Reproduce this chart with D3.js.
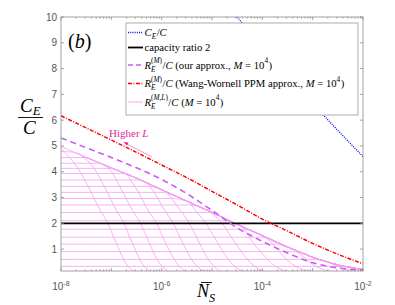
<!DOCTYPE html>
<html>
<head>
<meta charset="utf-8">
<script src="https://cdn.jsdelivr.net/npm/d3@7"></script>
<style>
  html, body { margin: 0; padding: 0; background: #fff; }
  svg { display: block; }
</style>
</head>
<body>
<svg id="chart" width="395" height="305"></svg>
<script>
// =============================================================================
// DATA  (x = log10 of N_S, y = rate ratio)
// =============================================================================

const xTickExps = [-8, -6, -4, -2];
const yTicks = [1, 2, 3, 4, 5, 6, 7, 8, 9, 10];

const ceOverC = [[-4.75, 10.6], [-4.5, 10.0], [-4, 8.85], [-3.5, 7.75], [-3, 6.65], [-2.5, 5.6], [-2, 4.59]];
const capacityRatio = 2;

const ourApprox = [[-8, 5.31], [-7.5, 4.93], [-7, 4.55], [-6.5, 4.15], [-6, 3.7], [-5.5, 3.15], [-5, 2.5],
  [-4.5, 1.82], [-4, 1.3], [-3.5, 0.85], [-3, 0.47], [-2.5, 0.27], [-2, 0.18]];

const wangWornell = [[-8, 6.17], [-7.5, 5.7], [-7, 5.23], [-6.5, 4.75], [-6, 4.26], [-5.5, 3.77], [-5, 3.24],
  [-4.5, 2.71], [-4, 2.16], [-3.5, 1.7], [-3, 1.22], [-2.5, 0.8], [-2, 0.43]];

// upper edge of the R_E^(M,L)/C family
const envelope = [[-8, 4.98], [-7.75, 4.76], [-7.5, 4.55], [-7.25, 4.35], [-7, 4.15], [-6.75, 3.95],
  [-6.5, 3.75], [-6.25, 3.53], [-6, 3.3], [-5.75, 3.08], [-5.5, 2.86], [-5.25, 2.64], [-5, 2.42],
  [-4.75, 2.19], [-4.5, 1.96], [-4.25, 1.74], [-4, 1.52], [-3.75, 1.3], [-3.5, 1.08], [-3.25, 0.88],
  [-3, 0.68], [-2.75, 0.53], [-2.5, 0.38], [-2.25, 0.29], [-2, 0.2]];

// flat branches of the family (level at small N_S, then they run into the envelope)
const flatLevels = [4.78, 4.55, 4.33, 4.13, 3.93, 3.68, 3.43, 3.2, 2.96, 2.71, 2.42, 2.1, 1.77, 1.46, 1.19, 0.9, 0.6, 0.33];

// falling branches of the family
const steepCurves = [
  [[-8, 4.9], [-7.67, 4.15], [-7.4, 3.2], [-7.22, 2.5], [-7.07, 2.0], [-6.93, 1.35], [-6.8, 0.78], [-6.7, 0.42], [-6.55, 0.14], [-6.4, 0.03]],
  [[-7.6, 4.63], [-7.35, 4.15], [-7.08, 3.2], [-6.9, 2.5], [-6.75, 2.0], [-6.61, 1.35], [-6.48, 0.78], [-6.38, 0.42], [-6.23, 0.14], [-6.08, 0.03]],
  [[-7.2, 4.31], [-7.05, 4.12], [-6.77, 3.2], [-6.58, 2.5], [-6.42, 2.0], [-6.27, 1.35], [-6.14, 0.78], [-6.03, 0.42], [-5.87, 0.14], [-5.72, 0.03]],
  [[-6.7, 3.91], [-6.46, 3.2], [-6.27, 2.5], [-6.1, 2.0], [-5.95, 1.35], [-5.8, 0.78], [-5.69, 0.42], [-5.53, 0.14], [-5.36, 0.03]],
  [[-6.3, 3.57], [-6.15, 3.2], [-5.94, 2.5], [-5.77, 2.0], [-5.61, 1.35], [-5.46, 0.78], [-5.34, 0.42], [-5.17, 0.14], [-5.0, 0.03]],
  [[-5.9, 3.21], [-5.63, 2.5], [-5.45, 2.0], [-5.28, 1.35], [-5.13, 0.78], [-5.0, 0.42], [-4.83, 0.14], [-4.65, 0.03]],
  [[-5.45, 2.82], [-5.33, 2.5], [-5.12, 2.0], [-4.92, 1.35], [-4.74, 0.78], [-4.6, 0.42], [-4.39, 0.14], [-4.18, 0.03]],
  [[-5.05, 2.46], [-4.8, 2.0], [-4.58, 1.35], [-4.37, 0.78], [-4.21, 0.42], [-3.97, 0.14], [-3.73, 0.03]],
  [[-4.38, 1.85], [-4.22, 1.35], [-3.98, 0.78], [-3.8, 0.42], [-3.53, 0.14], [-3.26, 0.03]],
  [[-3.98, 1.5], [-3.87, 1.35], [-3.61, 0.78], [-3.41, 0.42], [-3.11, 0.14], [-2.81, 0.03]],
  [[-3.35, 0.96], [-3.23, 0.78], [-3.01, 0.42], [-2.68, 0.14], [-2.35, 0.03]],
  [[-2.7, 0.5], [-2.61, 0.42], [-2.25, 0.14], [-1.9, 0.03]]
];

// =============================================================================
// STYLE
// =============================================================================

const COLORS = {
  blue: '#0000ff',
  black: '#000000',
  magenta: '#cc5cf5',
  red: '#ff0000',
  pink: '#f29ef0',
  note: '#e5269a',
  axis: '#8c8c8c',
  tickText: '#555555'
};

const SERIF = '"Liberation Serif", "Times New Roman", serif';
const SANS = '"Liberation Sans", Arial, Helvetica, sans-serif';

const plot = { left: 61, right: 363, top: 17, bottom: 271 };

// =============================================================================
// SCALES
// =============================================================================

const svg = d3.select('#chart');

const x = d3.scaleLog().domain([1e-8, 1e-2]).range([plot.left, plot.right]);
const y = d3.scaleLinear().domain([0.15, 10]).range([plot.bottom, plot.top]);

const line = d3.line()
  .x(d => x(Math.pow(10, d[0])))
  .y(d => y(d[1]))
  .curve(d3.curveMonotoneX);

svg.append('defs').append('clipPath').attr('id', 'plot-clip')
  .append('rect')
  .attr('x', plot.left).attr('y', plot.top)
  .attr('width', plot.right - plot.left).attr('height', plot.bottom - plot.top);

svg.append('rect')
  .attr('x', plot.left).attr('y', plot.top)
  .attr('width', plot.right - plot.left).attr('height', plot.bottom - plot.top)
  .attr('fill', '#fff');

const marks = svg.append('g').attr('clip-path', 'url(#plot-clip)');

// =============================================================================
// MARKS
// =============================================================================

// family of R_E^(M,L)/C curves
const family = marks.append('g')
  .attr('fill', 'none')
  .attr('stroke', COLORS.pink)
  .attr('stroke-width', 0.8);

flatLevels.forEach(h => {
  family.append('path').attr('d', line(envelope.map(([lx, e]) => [lx, Math.min(h, e)])));
});
family.append('path').attr('d', line(envelope));
steepCurves.forEach(c => {
  family.append('path').attr('d', line(c));
});

// capacity ratio 2
marks.append('line')
  .attr('x1', plot.left).attr('x2', plot.right)
  .attr('y1', y(capacityRatio)).attr('y2', y(capacityRatio))
  .attr('stroke', COLORS.black)
  .attr('stroke-width', 1.8);

marks.append('path')
  .attr('d', line(ourApprox))
  .attr('fill', 'none')
  .attr('stroke', COLORS.magenta)
  .attr('stroke-width', 1.6)
  .attr('stroke-dasharray', '6,4');

marks.append('path')
  .attr('d', line(wangWornell))
  .attr('fill', 'none')
  .attr('stroke', COLORS.red)
  .attr('stroke-width', 1.5)
  .attr('stroke-dasharray', '4,1.5,1,1.5');

marks.append('path')
  .attr('d', line(ceOverC))
  .attr('fill', 'none')
  .attr('stroke', COLORS.blue)
  .attr('stroke-width', 1.3)
  .attr('stroke-dasharray', '1,1.2');

// =============================================================================
// AXES
// =============================================================================

const axes = svg.append('g')
  .attr('stroke', COLORS.axis)
  .attr('stroke-width', 0.8)
  .attr('fill', 'none');

axes.append('rect')
  .attr('x', plot.left).attr('y', plot.top)
  .attr('width', plot.right - plot.left).attr('height', plot.bottom - plot.top);

x.ticks(60).forEach(v => {
  const isMajor = Math.abs(Math.log10(v) - Math.round(Math.log10(v))) < 1e-9;
  const len = isMajor ? 3 : 1.6;
  const px = x(v);
  axes.append('line').attr('x1', px).attr('x2', px).attr('y1', plot.bottom).attr('y2', plot.bottom - len);
  axes.append('line').attr('x1', px).attr('x2', px).attr('y1', plot.top).attr('y2', plot.top + len);
});

yTicks.forEach(v => {
  const py = y(v);
  axes.append('line').attr('x1', plot.left).attr('x2', plot.left + 3).attr('y1', py).attr('y2', py);
  axes.append('line').attr('x1', plot.right).attr('x2', plot.right - 3).attr('y1', py).attr('y2', py);
});

const tickText = svg.append('g')
  .attr('fill', COLORS.tickText)
  .attr('font-family', SANS)
  .attr('font-size', 10);

yTicks.forEach(v => {
  tickText.append('text')
    .attr('x', plot.left - 4)
    .attr('y', y(v) + 3.5)
    .attr('text-anchor', 'end')
    .text(v);
});

xTickExps.forEach(e => {
  const t = tickText.append('text')
    .attr('x', x(Math.pow(10, e)))
    .attr('y', plot.bottom + 19)
    .attr('text-anchor', 'middle');
  t.append('tspan').text('10');
  t.append('tspan').attr('dy', -4).attr('font-size', 7).text(String(e));
});

// =============================================================================
// MATH TEXT HELPER
// =============================================================================

/**
 * Write a run of [text, italic] pieces as one text element.
 * @returns {number} width in px
 */
function writeRun(g, px, py, runs, size) {
  const t = g.append('text')
    .attr('x', px).attr('y', py)
    .attr('font-family', SERIF)
    .attr('font-size', size);
  runs.forEach(([s, it]) => {
    t.append('tspan').attr('font-style', it ? 'italic' : 'normal').text(s);
  });
  return t.node().getComputedTextLength();
}

/**
 * Lay out math parts left to right. Each part is {runs} or {sup, sub}.
 */
function writeMath(g, px, py, parts, size, subDrop = 0.32) {
  let cx = px;
  parts.forEach(p => {
    if (p.runs) {
      cx += writeRun(g, cx, py, p.runs, size);
    } else {
      let w = 0;
      if (p.sup) w = Math.max(w, writeRun(g, cx, py - size * 0.5, p.sup, size * 0.68));
      if (p.sub) w = Math.max(w, writeRun(g, cx, py + size * subDrop, p.sub, size * 0.68));
      cx += w + size * 0.05;
    }
  });
  return cx;
}

// =============================================================================
// LEGEND
// =============================================================================

const legend = svg.append('g');
legend.append('rect')
  .attr('x', 126).attr('y', 23)
  .attr('width', 232).attr('height', 92)
  .attr('fill', '#fff')
  .attr('stroke', '#9a9a9a')
  .attr('stroke-width', 0.8);

const LS = 10.7;
const legendRows = [
  { y: 32.5, stroke: COLORS.blue, width: 1.3, dash: '1,1.2',
    parts: [{ runs: [['C', 1]] }, { sub: [['E', 1]] }, { runs: [['/', 0], ['C', 1]] }] },
  { y: 47.5, stroke: COLORS.black, width: 1.8, dash: null,
    parts: [{ runs: [['capacity ratio 2', 0]] }] },
  { y: 65, stroke: COLORS.magenta, width: 1.6, dash: '5,3',
    parts: [{ runs: [['R', 1]] }, { sup: [['(', 0], ['M', 1], [')', 0]], sub: [['E', 1]] },
      { runs: [['/', 0], ['C', 1], [' (our approx., ', 0], ['M', 1], [' = 10', 0]] },
      { sup: [['4', 0]] }, { runs: [[')', 0]] }] },
  { y: 83.5, stroke: COLORS.red, width: 1.5, dash: '4,1.5,1,1.5',
    parts: [{ runs: [['R', 1]] }, { sup: [['(', 0], ['M', 1], [')', 0]], sub: [['E', 1]] },
      { runs: [['/', 0], ['C', 1], [' (Wang-Wornell PPM approx., ', 0], ['M', 1], [' = 10', 0]] },
      { sup: [['4', 0]] }, { runs: [[')', 0]] }] },
  { y: 102, stroke: COLORS.pink, width: 0.9, dash: null,
    parts: [{ runs: [['R', 1]] }, { sup: [['(', 0], ['M', 1], [',', 0], ['L', 1], [')', 0]], sub: [['E', 1]] },
      { runs: [['/', 0], ['C', 1], [' (', 0], ['M', 1], [' = 10', 0]] },
      { sup: [['4', 0]] }, { runs: [[')', 0]] }] }
];

legendRows.forEach(r => {
  const ln = legend.append('line')
    .attr('x1', 128).attr('x2', 143)
    .attr('y1', r.y).attr('y2', r.y)
    .attr('stroke', r.stroke)
    .attr('stroke-width', r.width);
  if (r.dash) ln.attr('stroke-dasharray', r.dash);
  writeMath(legend, 144.5, r.y + 3.5, r.parts, LS);
});

// =============================================================================
// LABELS
// =============================================================================

const labels = svg.append('g').attr('fill', '#000');

// panel tag
writeRun(labels, 68, 48, [['(', 0], ['b', 1], [')', 0]], 20);

// y label: C_E over C
writeMath(labels, 20, 112, [{ runs: [['C', 1]] }, { sub: [['E', 1]] }], 19, 0.16);
labels.append('line')
  .attr('x1', 18).attr('x2', 43)
  .attr('y1', 117.5).attr('y2', 117.5)
  .attr('stroke', '#000').attr('stroke-width', 0.9);
writeRun(labels, 23, 134, [['C', 1]], 19);

// x label: N-bar_S
writeMath(labels, 197, 297, [{ runs: [['N', 1]] }, { sub: [['S', 1]] }], 18, 0.25);
labels.append('line')
  .attr('x1', 201).attr('x2', 212)
  .attr('y1', 282.5).attr('y2', 282.5)
  .attr('stroke', '#000').attr('stroke-width', 0.9);

// "Higher L" annotation
const note = svg.append('g');
writeRun(note, 109, 137, [['Higher ', 0], ['L', 1]], 11);
note.selectAll('text').attr('fill', COLORS.note);
note.append('line')
  .attr('x1', 152).attr('y1', 157)
  .attr('x2', 126).attr('y2', 143.5)
  .attr('stroke', '#e782c8')
  .attr('stroke-width', 0.8);
note.append('path')
  .attr('d', 'M123.5,142 L128.6,142.4 L126.9,145.6 Z')
  .attr('fill', COLORS.note);
</script>
</body>
</html>
